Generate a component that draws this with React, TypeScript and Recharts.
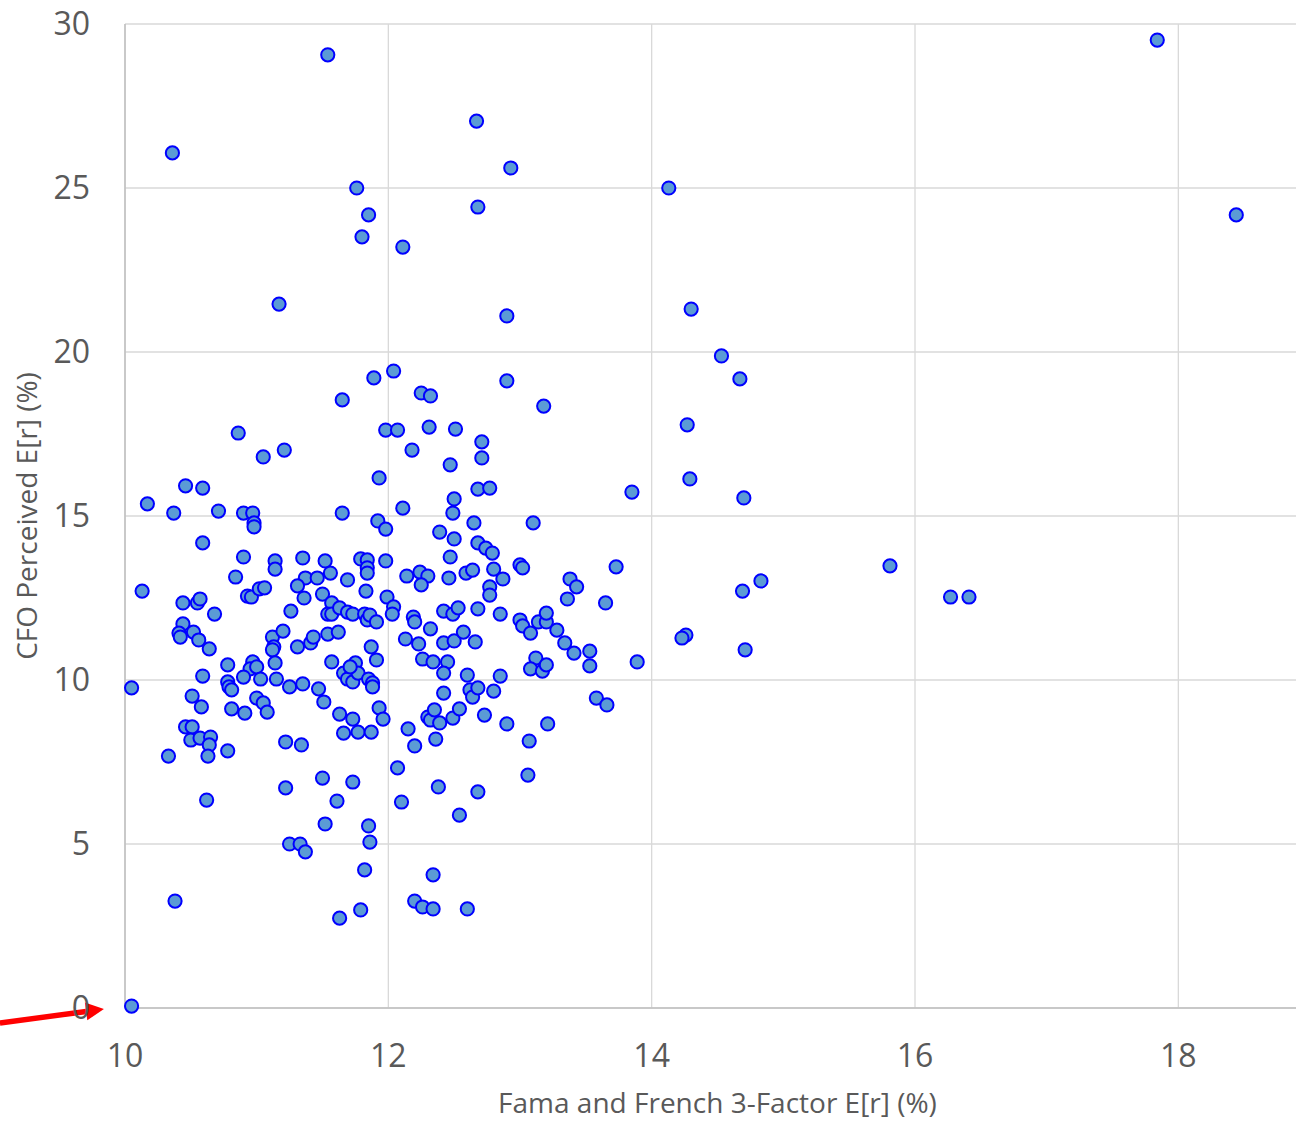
import React from "react";
import {
  ScatterChart,
  Scatter,
  XAxis,
  YAxis,
  CartesianGrid,
  ReferenceLine,
} from "recharts";

const xTicks = [10, 12, 14, 16, 18];
const yTicks = [0, 5, 10, 15, 20, 25, 30];

// Fama and French 3-factor expected return (%), one entry per firm
const famaFrenchEr = [
  11.54, 17.84, 10.36, 12.67, 12.93, 11.76, 14.13, 11.85, 12.68, 18.44,
  11.8, 12.11, 11.17, 12.9, 14.3, 14.53, 14.67, 11.89, 12.04, 12.9,
  11.65, 12.25, 12.32, 13.18, 10.86, 11.98, 12.07, 12.31, 12.51, 14.27,
  12.71, 11.05, 11.21, 12.18, 12.71, 12.47, 11.93, 14.29, 10.17, 10.46,
  10.59, 10.37, 10.71, 10.9, 10.97, 10.98, 10.98, 11.65, 12.11, 12.5,
  12.49, 12.68, 12.77, 13.85, 14.7, 11.92, 11.98, 12.39, 12.5, 12.65,
  13.1, 12.68, 12.74, 12.79, 10.59, 10.9, 11.14, 11.14, 10.84, 11.35,
  11.52, 11.79, 11.84, 11.98, 12.47, 11.56, 11.69, 11.84, 11.84, 11.37,
  11.46, 12.14, 12.24, 12.3, 12.46, 12.59, 12.64, 12.8, 12.87, 13.0,
  13.02, 13.38, 13.73, 14.83, 14.69, 15.81, 16.27, 16.41, 10.13, 10.44,
  10.55, 10.57, 10.68, 10.93, 10.96, 11.02, 11.06, 11.31, 11.36, 11.26,
  10.44, 10.41, 10.42, 10.52, 10.56, 10.64, 11.12, 11.2, 11.13, 11.12,
  11.31, 10.78, 10.59, 10.97, 10.95, 11.0, 10.9, 11.03, 11.14, 11.15,
  11.25, 10.05, 10.78, 10.79, 10.81, 10.51, 10.58, 10.81, 10.91, 11.0,
  11.05, 11.08, 10.46, 10.51, 10.5, 10.57, 10.65, 10.64, 10.63, 10.78,
  10.33, 11.22, 11.22, 10.62, 11.25, 11.33, 11.37, 10.38, 10.05, 11.35,
  11.5, 11.57, 11.54, 11.57, 11.63, 11.69, 11.73, 11.82, 11.84, 11.86,
  11.91, 11.83, 11.99, 12.04, 12.03, 12.25, 12.19, 12.2, 12.32, 12.42,
  12.49, 12.53, 12.68, 11.41, 11.43, 11.54, 11.62, 11.87, 11.91, 11.57,
  11.66, 11.69, 11.73, 11.75, 11.77, 11.71, 11.85, 11.88, 11.88, 12.13,
  12.23, 12.42, 12.5, 12.57, 12.66, 12.26, 12.34, 12.45, 12.42, 12.6,
  12.62, 12.64, 12.68, 12.42, 11.47, 11.51, 11.63, 11.73, 11.66, 11.77,
  11.87, 11.93, 11.96, 12.3, 12.32, 12.35, 12.39, 12.49, 12.54, 12.73,
  12.15, 12.2, 12.36, 11.34, 12.07, 11.5, 11.73, 12.38, 12.68, 11.61,
  12.1, 12.54, 11.52, 11.85, 11.86, 11.82, 12.34, 11.79, 11.63, 12.2,
  12.26, 12.34, 12.6, 12.77, 12.77, 13.43, 13.36, 13.65, 12.85, 13.0,
  13.02, 13.08, 13.14, 13.2, 13.2, 13.28, 13.34, 13.41, 13.53, 13.53,
  13.89, 13.12, 13.08, 13.17, 13.2, 12.85, 12.8, 13.58, 13.66, 12.9,
  13.21, 13.07, 13.06, 14.26, 14.23, 14.71,
];

// CFO perceived expected return (%), same order as above
const cfoPerceivedEr = [
  29.06, 29.51, 26.07, 27.04, 25.61, 25.0, 25.0, 24.18, 24.42, 24.18,
  23.51, 23.2, 21.46, 21.1, 21.31, 19.88, 19.18, 19.21, 19.42, 19.12,
  18.54, 18.75, 18.66, 18.35, 17.53, 17.62, 17.62, 17.71, 17.65, 17.78,
  17.26, 16.8, 17.01, 17.01, 16.77, 16.56, 16.16, 16.13, 15.37, 15.92,
  15.85, 15.09, 15.15, 15.09, 15.09, 14.79, 14.67, 15.09, 15.24, 15.52,
  15.09, 15.82, 15.85, 15.73, 15.55, 14.85, 14.6, 14.51, 14.3, 14.79,
  14.79, 14.18, 14.02, 13.87, 14.18, 13.75, 13.63, 13.38, 13.14, 13.72,
  13.63, 13.69, 13.66, 13.63, 13.75, 13.26, 13.05, 13.42, 13.26, 13.11,
  13.11, 13.17, 13.29, 13.17, 13.11, 13.26, 13.35, 13.38, 13.08, 13.51,
  13.42, 13.08, 13.45, 13.02, 12.71, 13.48, 12.53, 12.53, 12.71, 12.35,
  12.35, 12.47, 12.01, 12.56, 12.53, 12.78, 12.81, 12.87, 12.5, 12.1,
  11.71, 11.43, 11.31, 11.46, 11.22, 10.95, 11.31, 11.49, 11.01, 10.92,
  11.01, 10.46, 10.12, 10.55, 10.34, 10.4, 10.09, 10.03, 10.52, 10.03,
  9.79, 9.76, 9.94, 9.79, 9.7, 9.51, 9.18, 9.12, 8.99, 9.45,
  9.3, 9.02, 8.57, 8.57, 8.17, 8.23, 8.26, 8.02, 7.68, 7.84,
  7.68, 8.11, 6.71, 6.34, 5.0, 5.0, 4.76, 3.26, 0.06, 9.88,
  12.62, 12.35, 12.01, 12.01, 12.2, 12.07, 12.01, 12.01, 11.83, 11.98,
  11.77, 12.71, 12.53, 12.23, 12.01, 12.9, 11.92, 11.77, 11.56, 12.1,
  12.01, 12.2, 12.17, 11.13, 11.31, 11.4, 11.46, 11.01, 10.61, 10.55,
  10.21, 10.03, 9.94, 10.52, 10.21, 10.4, 10.03, 9.91, 9.79, 11.25,
  11.1, 11.13, 11.19, 11.46, 11.16, 10.64, 10.55, 10.55, 10.21, 10.15,
  9.7, 9.48, 9.76, 9.6, 9.73, 9.33, 8.96, 8.81, 8.38, 8.41,
  8.41, 9.15, 8.81, 8.87, 8.78, 9.09, 8.69, 8.84, 9.12, 8.93,
  8.51, 7.99, 8.2, 8.02, 7.32, 7.01, 6.89, 6.74, 6.59, 6.31,
  6.28, 5.88, 5.61, 5.55, 5.06, 4.21, 4.06, 2.99, 2.74, 3.26,
  3.08, 3.02, 3.02, 12.84, 12.59, 12.84, 12.47, 12.35, 12.01, 11.83,
  11.65, 11.43, 11.77, 11.77, 12.04, 11.52, 11.13, 10.82, 10.88, 10.43,
  10.55, 10.67, 10.34, 10.27, 10.46, 10.12, 9.66, 9.45, 9.24, 8.66,
  8.66, 8.14, 7.1, 11.37, 11.28, 10.92,
];

// red annotation arrow pointing at the (10, 0) observation
const arrowTail = { x: 9.05, y: -0.46 };
const arrowTip = { x: 9.84, y: -0.03 };

const data = famaFrenchEr.map((x, i) => ({ x, y: cfoPerceivedEr[i] }));

const font = "'Open Sans', sans-serif";
const textColor = "#595959";

const Dot = (props: any) => (
  <circle
    cx={props.cx}
    cy={props.cy}
    r={6.6}
    fill="#5B9BD5"
    stroke="#0000FF"
    strokeWidth={2}
  />
);

const Arrow = (props: any) => {
  const { x1, y1, x2, y2 } = props;
  const ang = Math.atan2(y2 - y1, x2 - x1);
  const len = 18;
  const half = 9;
  const bx = x2 - len * Math.cos(ang);
  const by = y2 - len * Math.sin(ang);
  const px = -Math.sin(ang) * half;
  const py = Math.cos(ang) * half;
  return (
    <g>
      <line x1={x1} y1={y1} x2={bx} y2={by} stroke="#FF0000" strokeWidth={5.5} />
      <polygon
        points={`${x2},${y2} ${bx + px},${by + py} ${bx - px},${by - py}`}
        fill="#FF0000"
      />
    </g>
  );
};

const App = () => {
  return (
    <div
      style={{
        position: "absolute",
        left: 0,
        top: 0,
        width: 1296,
        height: 1122,
        overflow: "hidden",
        background: "#fff",
      }}
    >
      <ScatterChart
        width={1310}
        height={1122}
        margin={{ top: 24, right: 0, bottom: 0, left: 0 }}
      >
        <CartesianGrid stroke="#d9d9d9" strokeWidth={1.3} />
        <XAxis
          type="number"
          dataKey="x"
          domain={[10, 19]}
          ticks={xTicks}
          height={114}
          axisLine={{ stroke: "#bfbfbf", strokeWidth: 1.5 }}
          tickLine={false}
          tickSize={0}
          tickMargin={36}
          tick={{ fill: textColor, fontSize: 32, fontFamily: font }}
          label={{
            value: "Fama and French 3-Factor E[r] (%)",
            position: "center",
            dy: 38,
            fill: textColor,
            fontSize: 28,
            fontFamily: font,
          }}
        />
        <YAxis
          type="number"
          dataKey="y"
          domain={[0, 30]}
          ticks={yTicks}
          width={125}
          axisLine={{ stroke: "#bfbfbf", strokeWidth: 1.5 }}
          tickLine={false}
          tickSize={0}
          tickMargin={35}
          tick={{ fill: textColor, fontSize: 32, fontFamily: font }}
          label={{
            value: "CFO Perceived E[r] (%)",
            angle: -90,
            position: "center",
            dx: -35,
            fill: textColor,
            fontSize: 28,
            fontFamily: font,
          }}
        />
        <ReferenceLine
          segment={[arrowTail, arrowTip]}
          ifOverflow="visible"
          shape={Arrow}
        />
        <Scatter data={data} shape={Dot} isAnimationActive={false} />
      </ScatterChart>
    </div>
  );
};

export default App;
